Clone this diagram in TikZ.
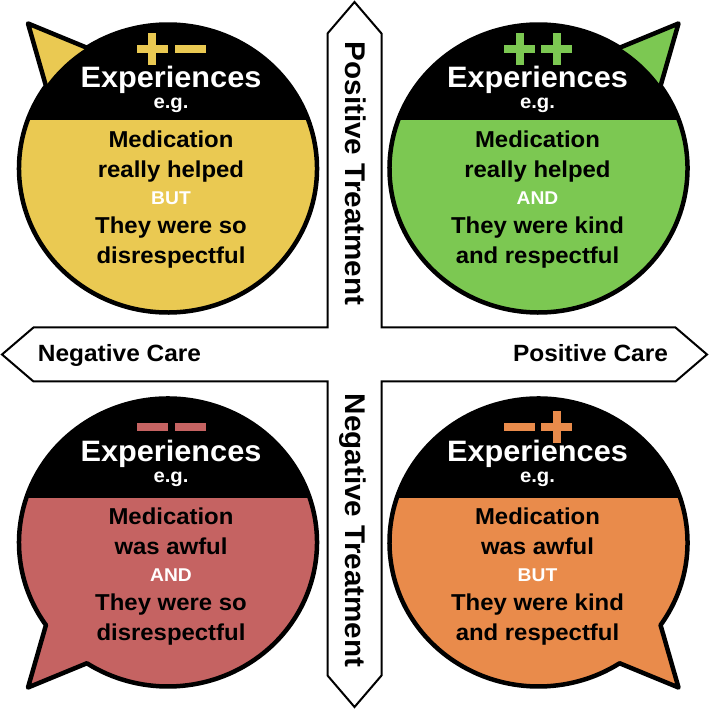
\documentclass[tikz,border=0pt]{standalone}
\usepackage{fontspec}
\setmainfont{Liberation Sans}[FakeStretch=1.04]
\definecolor{cyel}{RGB}{234,201,82}
\definecolor{cgrn}{RGB}{124,200,82}
\definecolor{cred}{RGB}{197,99,98}
\definecolor{cora}{RGB}{233,139,75}
\newcommand\fsz[1]{\fontsize{#1}{#1}\selectfont\bfseries}
\newcommand\bubpath{(123:149 and 144) -- (-140,145) -- (145:149 and 144) arc[start angle=145, end angle=483, x radius=149, y radius=144] -- cycle}
\newcommand\bubshape[6]{%
\begin{scope}[shift={(#1,#2)}]
 \begin{scope}[xscale=#3,yscale=#4]
  \fill[#5] \bubpath;
 \end{scope}
 \begin{scope}
  \clip (0,0) ellipse[x radius=149, y radius=144];
  \fill[black] (-160,#6) rectangle (160,160);
 \end{scope}
 \begin{scope}[xscale=#3,yscale=#4]
  \draw[outl] \bubpath;
 \end{scope}
\end{scope}}
\newcommand\plusmk[3]{\fill[#3] ({#1-15.5},{#2-4}) rectangle ({#1+15.5},{#2+4});
 \fill[#3] ({#1-4},{#2-16}) rectangle ({#1+4},{#2+16});}
\newcommand\minusmk[3]{\fill[#3] ({#1-15.5},{#2-4}) rectangle ({#1+15.5},{#2+4});}
\tikzset{
 outl/.style={line width=4.5pt, line join=round},
 hd/.style={anchor=base, inner sep=0pt, text=white, font=\fsz{29.5}},
 eg/.style={anchor=base, inner sep=0pt, text=white, font=\fsz{19.5}},
 bd/.style={anchor=base, inner sep=0pt, text=black, font=\fsz{23}},
 cj/.style={anchor=base, inner sep=0pt, text=white, font=\fsz{18.5}},
 axl/.style={anchor=base, inner sep=0pt, text=black, font=\fsz{23.5}},
 axv/.style={anchor=base, inner sep=0pt, text=black, font=\fsz{28.5}, rotate=-90},
}
\begin{document}
\begin{tikzpicture}[x=1pt,y=1pt]
\useasboundingbox[fill=white] (0,0) rectangle (709,709);
% cross arrows
\def\c{354.5}
\draw[line width=2pt, line join=miter, fill=white]
 (\c,{\c+352.5}) -- ({\c+27},{\c+321}) -- ({\c+27},{\c+27}) -- ({\c+321},{\c+27})
 -- ({\c+352.5},\c) -- ({\c+321},{\c-27}) -- ({\c+27},{\c-27}) -- ({\c+27},{\c-321})
 -- (\c,{\c-352.5}) -- ({\c-27},{\c-321}) -- ({\c-27},{\c-27}) -- ({\c-321},{\c-27})
 -- ({\c-352.5},\c) -- ({\c-321},{\c+27}) -- ({\c-27},{\c+27}) -- ({\c-27},{\c+321}) -- cycle;
\node[axl] (negcare) at (119.5,347) {Negative Care};
\node[axl] (poscare) at (590.5,347) {Positive Care};
\node[axv] (postreat) at (345,535.5) {Positive Treatment};
\node[axv] (negtreat) at (345,178.5) {Negative Treatment};
% bubbles
\bubshape{168}{540.5}{1}{1}{cyel}{48}
\bubshape{538.5}{540.5}{-1}{1}{cgrn}{48}
\bubshape{168}{166.5}{1}{-1}{cred}{44}
\bubshape{538.5}{166.5}{-1}{-1}{cora}{44}
% top-left
\plusmk{152}{659.5}{cyel}\minusmk{190}{659.5}{cyel}
\node[hd] (tlh) at (171,621) {Experiences};
\node[eg] (tle) at (171,600) {e.g.};
\node[bd] (tl1) at (171,561.5) {Medication};
\node[bd] (tl2) at (171,531.5) {really helped};
\node[cj] (tl3) at (171,504.5) {BUT};
\node[bd] (tl4) at (171,475.5) {They were so};
\node[bd] (tl5) at (171,445.5) {disrespectful};
% top-right
\plusmk{519.5}{659.5}{cgrn}\plusmk{556.5}{659.5}{cgrn}
\node[hd] (trh) at (537.5,621) {Experiences};
\node[eg] (tre) at (537.5,600) {e.g.};
\node[bd] (tr1) at (537.5,561.5) {Medication};
\node[bd] (tr2) at (537.5,531.5) {really helped};
\node[cj] (tr3) at (537.5,504.5) {AND};
\node[bd] (tr4) at (537.5,475.5) {They were kind};
\node[bd] (tr5) at (537.5,445.5) {and respectful};
% bottom-left
\minusmk{152}{281.5}{cred}\minusmk{190}{281.5}{cred}
\node[hd] (blh) at (171,247) {Experiences};
\node[eg] (ble) at (171,226) {e.g.};
\node[bd] (bl1) at (171,184) {Medication};
\node[bd] (bl2) at (171,154) {was awful};
\node[cj] (bl3) at (171,127) {AND};
\node[bd] (bl4) at (171,98) {They were so};
\node[bd] (bl5) at (171,68) {disrespectful};
% bottom-right
\minusmk{519.5}{281.5}{cora}\plusmk{556.5}{281.5}{cora}
\node[hd] (brh) at (537.5,247) {Experiences};
\node[eg] (bre) at (537.5,226) {e.g.};
\node[bd] (br1) at (537.5,184) {Medication};
\node[bd] (br2) at (537.5,154) {was awful};
\node[cj] (br3) at (537.5,127) {BUT};
\node[bd] (br4) at (537.5,98) {They were kind};
\node[bd] (br5) at (537.5,68) {and respectful};
\end{tikzpicture}
\end{document}
